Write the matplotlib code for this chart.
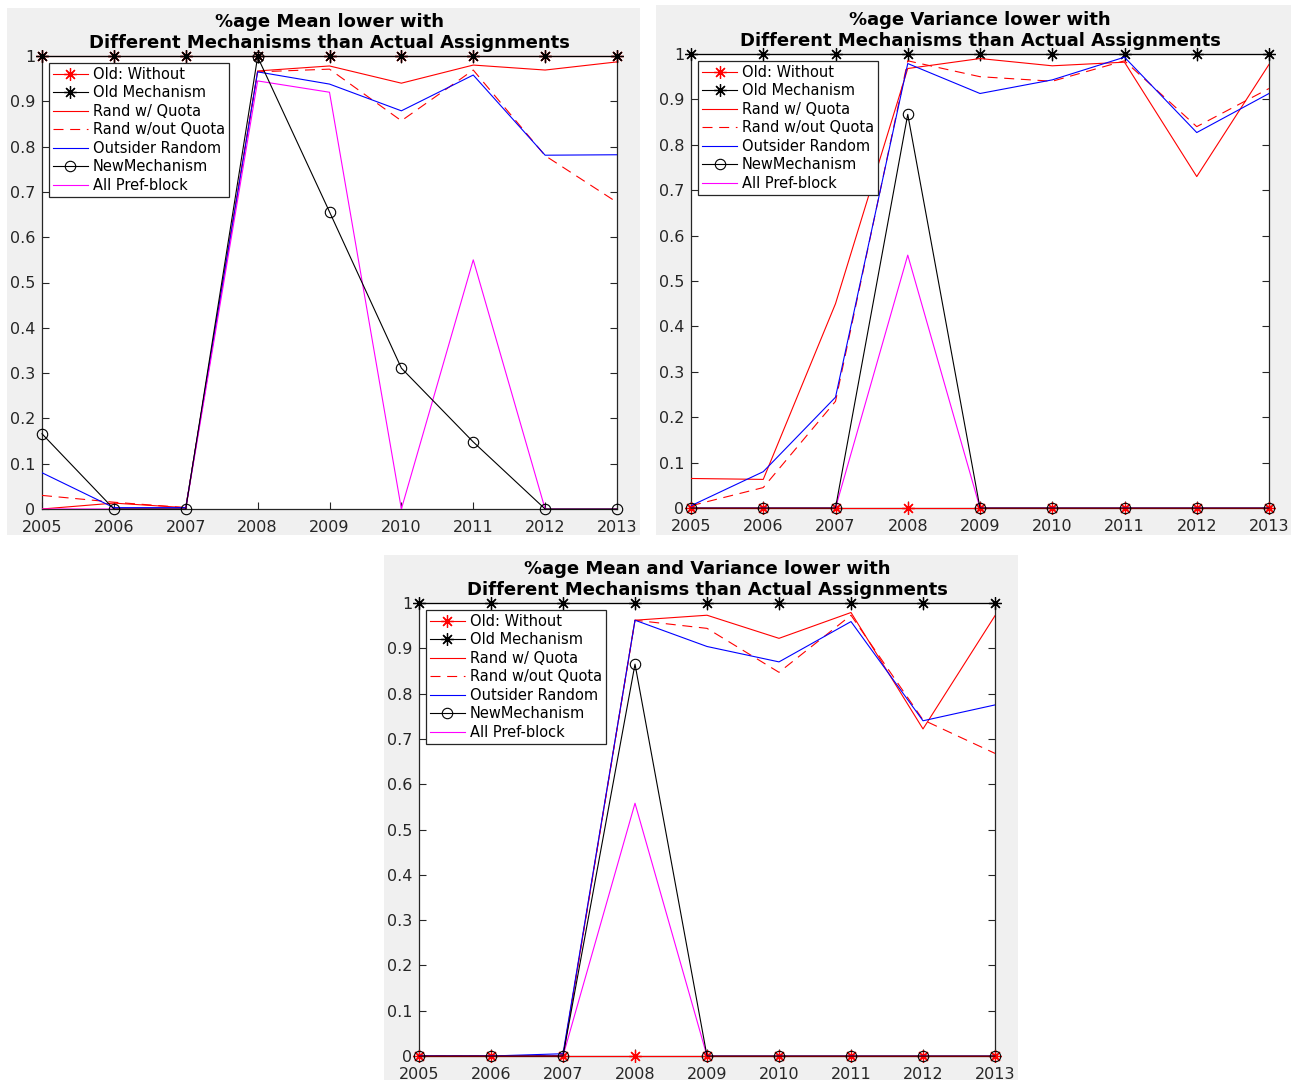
import matplotlib
matplotlib.use("Agg")
import matplotlib.pyplot as plt
from matplotlib.patches import Rectangle

years = [2005, 2006, 2007, 2008, 2009, 2010, 2011, 2012, 2013]
y_ticks = [0, 0.1, 0.2, 0.3, 0.4, 0.5, 0.6, 0.7, 0.8, 0.9, 1]
y_tick_labels = ["0", "0.1", "0.2", "0.3", "0.4", "0.5", "0.6", "0.7", "0.8", "0.9", "1"]
labels = ["Old: Without", "Old Mechanism", "Rand w/ Quota", "Rand w/out Quota",
          "Outsider Random", "NewMechanism", "All Pref-block"]

# %age Mean lower
mean_old_without = [1, 1, 1, 1, 1, 1, 1, 1, 1]
mean_old_mech = [1, 1, 1, 1, 1, 1, 1, 1, 1]
mean_rand_quota = [0.0, 0.013, 0.003, 0.967, 0.978, 0.94, 0.98, 0.969, 0.987]
mean_rand_noquota = [0.03, 0.015, 0.003, 0.965, 0.971, 0.857, 0.969, 0.78, 0.677]
mean_outsider = [0.08, 0.003, 0.003, 0.965, 0.938, 0.879, 0.958, 0.781, 0.782]
mean_new = [0.166, 0.0, 0.0, 0.998, 0.656, 0.311, 0.148, 0.0, 0.0]
mean_prefblock = [0.0, 0.0, 0.0, 0.945, 0.92, 0.0, 0.55, 0.0, 0.0]

# %age Variance lower
var_old_without = [0, 0, 0, 0, 0, 0, 0, 0, 0]
var_old_mech = [1, 1, 1, 1, 1, 1, 1, 1, 1]
var_rand_quota = [0.065, 0.063, 0.45, 0.968, 0.99, 0.974, 0.982, 0.73, 0.977]
var_rand_noquota = [0.005, 0.045, 0.235, 0.985, 0.95, 0.94, 0.985, 0.84, 0.924]
var_outsider = [0.005, 0.08, 0.244, 0.979, 0.913, 0.943, 0.993, 0.827, 0.913]
var_new = [0, 0, 0, 0.867, 0, 0, 0, 0, 0]
var_prefblock = [0, 0, 0, 0.557, 0, 0, 0, 0, 0]

# %age Mean and Variance lower
both_old_without = [0, 0, 0, 0, 0, 0, 0, 0, 0]
both_old_mech = [1, 1, 1, 1, 1, 1, 1, 1, 1]
both_rand_quota = [0, 0, 0, 0.962, 0.973, 0.922, 0.979, 0.722, 0.972]
both_rand_noquota = [0, 0, 0, 0.962, 0.944, 0.847, 0.973, 0.742, 0.668]
both_outsider = [0, 0, 0.005, 0.962, 0.904, 0.87, 0.959, 0.74, 0.775]
both_new = [0, 0, 0, 0.865, 0, 0, 0, 0, 0]
both_prefblock = [0, 0, 0, 0.558, 0, 0, 0, 0, 0]

W, H = 1291, 1080
DARK = "#262626"
ASTER = (8, 2, 0)

plt.rcParams["font.family"] = "DejaVu Sans"
fig = plt.figure(figsize=(W / 100, H / 100), dpi=100)
fig.patch.set_facecolor("white")


def _panel_bg(x0, y0, x1, y1):
    fig.patches.append(Rectangle((x0 / W, 1 - y1 / H), (x1 - x0) / W, (y1 - y0) / H,
                                 transform=fig.transFigure, facecolor="#f0f0f0",
                                 edgecolor="none", zorder=-5))


def _axes(left, right, top, bottom):
    ax = fig.add_axes([left / W, 1 - bottom / H, (right - left) / W, (bottom - top) / H])
    ax.set_facecolor("white")
    return ax


def _draw(ax, title, series):
    old_wo, old_m, rq, rnq, outs, new, pref = series
    lw = 0.8
    ax.plot(years, old_wo, color="red", lw=lw, marker=ASTER, ms=9, mew=0.9,
            label=labels[0], clip_on=False, zorder=3)
    ax.plot(years, old_m, color="black", lw=lw, marker=ASTER, ms=9, mew=0.9,
            label=labels[1], clip_on=False, zorder=3.1)
    ax.plot(years, rq, color="red", lw=lw, label=labels[2], zorder=3.2)
    ax.plot(years, rnq, color="red", lw=lw, dashes=(9, 6), label=labels[3], zorder=3.3)
    ax.plot(years, outs, color="blue", lw=lw, label=labels[4], zorder=3.4)
    ax.plot(years, new, color="black", lw=lw, marker="o", ms=7.5, mfc="none", mew=0.8,
            label=labels[5], clip_on=False, zorder=3.6)
    ax.plot(years, pref, color="magenta", lw=lw, label=labels[6], zorder=3.5)

    ax.set_xlim(2005, 2013)
    ax.set_ylim(0, 1)
    ax.set_xticks(years)
    ax.set_xticklabels([str(y) for y in years])
    ax.set_yticks(y_ticks)
    ax.set_yticklabels(y_tick_labels)
    ax.tick_params(direction="in", top=True, right=True, length=5, width=0.8,
                   colors=DARK, labelsize=11.5)
    ax.tick_params(axis="x", pad=8)
    ax.tick_params(axis="y", pad=5)
    for sp in ax.spines.values():
        sp.set_color(DARK)
        sp.set_linewidth(0.9)
    ax.set_title(title, fontsize=13, fontweight="bold", pad=6, linespacing=1.2,
                 color="black")

    leg = ax.legend(loc="upper left", bbox_to_anchor=(0.012, 0.985), fontsize=10.5,
                    frameon=True, fancybox=False, framealpha=1, borderaxespad=0,
                    handlelength=2.4, handletextpad=0.35, labelspacing=0.24,
                    borderpad=0.28)
    leg.get_frame().set_edgecolor(DARK)
    leg.get_frame().set_linewidth(0.9)
    leg.set_zorder(5)


_panel_bg(7, 8, 640, 535)
_panel_bg(656, 5, 1291, 535)
_panel_bg(384, 555, 1018, 1080)

ax1 = _axes(42, 617, 56, 509)
_draw(ax1, "%age Mean lower with\nDifferent Mechanisms than Actual Assignments",
      [mean_old_without, mean_old_mech, mean_rand_quota, mean_rand_noquota,
       mean_outsider, mean_new, mean_prefblock])

ax2 = _axes(691, 1269, 54, 508)
_draw(ax2, "%age Variance lower with\nDifferent Mechanisms than Actual Assignments",
      [var_old_without, var_old_mech, var_rand_quota, var_rand_noquota,
       var_outsider, var_new, var_prefblock])

ax3 = _axes(419, 995, 603, 1056)
_draw(ax3, "%age Mean and Variance lower with\nDifferent Mechanisms than Actual Assignments",
      [both_old_without, both_old_mech, both_rand_quota, both_rand_noquota,
       both_outsider, both_new, both_prefblock])

fig.savefig("out.png", dpi=100)
